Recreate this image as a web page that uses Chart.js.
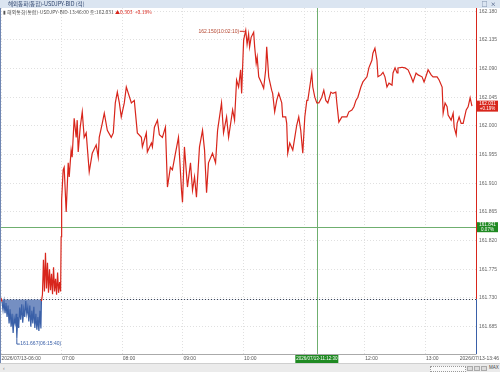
<!DOCTYPE html>
<html>
<head>
<meta charset="utf-8">
<script src="https://cdn.jsdelivr.net/npm/chart.js@4.4.1/dist/chart.umd.min.js"></script>
<style>
body { margin: 0; background: #fff; }
#wrap { position: relative; width: 500px; height: 372px; overflow: hidden; font-family: "Noto Sans CJK KR", "Liberation Sans", sans-serif; }
#titlebar { position: absolute; left: 0; top: 0; width: 500px; height: 8px; background: #dbe5f1; color: #2b416b; font-size: 5.5px; line-height: 8px; }
#titlebar .t { position: absolute; left: 8px; }
#titlebar .ic { position: absolute; right: 3px; letter-spacing: 1px; }
#info { position: absolute; left: 3px; top: 9px; font-size: 5px; line-height: 6px; color: #555; white-space: nowrap; }
#info .up { color: #d8261c; }
#leftline { position: absolute; left: 0; top: 8px; width: 1px; height: 355px; background: #6f86b3; }
#scroll { position: absolute; left: 0; top: 363px; width: 500px; height: 9px; background: #ebebeb; border-top: 1px solid #cfcfcf; box-sizing: border-box; font-family: "Liberation Sans", sans-serif; font-size: 5px; color: #777; }
#scroll .l { position: absolute; left: 3px; top: 1px; }
#scroll .bar { position: absolute; left: 430px; top: 2px; width: 34px; height: 4px; border: 1px dotted #999; background: #fafafa; }
#scroll .b { position: absolute; top: 2px; width: 6px; height: 5px; background: #dcdcdc; border: 1px solid #aaa; box-sizing: border-box; }
#scroll .m { position: absolute; left: 489px; top: 1px; font-size: 4.5px; color: #444; }
</style>
</head>
<body>
<div id="wrap">
  <canvas id="grafico" width="500" height="372"></canvas>
  <div id="titlebar"><span class="t">해외통화(통합)-USDJPY-BID (적)</span><span class="ic">□ ×</span></div>
  <div id="info"></div>
  <div id="leftline"></div>
  <div id="scroll"><span class="l">‹</span><span class="bar"></span><span class="b" style="left:467px"></span><span class="b" style="left:474px"></span><span class="b" style="left:481px"></span><span class="m">MAX</span></div>
</div>
<script>
// minutos desde 06:00
const times = [
    0, 1, 2, 3, 4, 5, 6, 7, 8, 9, 10, 11, 12, 13, 14, 15, 15.67, 16.5, 17.5, 18.5, 19.5,
    20.5, 21.5, 22.5, 23.5, 24.5, 25.5, 26.5, 27.5, 28.5, 29.5, 30.5, 31.5, 32.5, 33.5, 34.5,
    35.5, 36.5, 37.5, 38.5, 39.5, 40,
    41, 42, 43, 44, 45, 46, 47, 48, 49, 50, 51, 52, 53, 54, 55, 56, 57, 58, 59,
    59.5, 60, 61.5, 62.5, 64.5, 66.5, 67.5, 69.4, 70.4, 72.4, 74.4, 75.4, 76.4, 78.4, 80.4,
    82.3, 84.3, 87.3, 90.3, 94.2, 96.2, 97.2, 100.2, 102.2, 105.2, 109.1, 111.1, 113.1, 115.1,
    117.1, 119, 122, 124, 129, 131.9, 134.9, 138.9, 139.9, 143.8, 144.8, 148.8, 149.8, 151.8,
    154.8, 156.7, 159.7, 162.7, 164.7, 167.6, 169.6, 172.6, 175.6, 178.6, 179.6, 181.5, 184.5,
    187.5, 189.5, 191.5, 193.4, 196.4, 199.4, 201.4, 203.4, 205.3, 209.3, 212.3, 214.3, 218.2,
    220.2, 223.2, 225.2, 229.2, 231.1, 233.1, 235.1, 237.1, 238.1, 240.1, 242.17,
    243.5, 245, 246, 247.5, 250, 251, 252.5, 253.5, 255, 257.9, 259.9, 261.9, 262.9, 264.9,
    267.8, 268.8, 270.8, 272.8, 274.8, 277.8, 278.7, 281.7, 282.7, 283.7, 285.7, 288.7, 290.7,
    292.6, 294.6, 296.6, 298.6, 300.6, 302.6, 303.6, 306.5, 307.5, 308.5, 310.5, 312.5, 314.5,
    317.4, 319.4, 321.4, 323.4, 326.4, 328.3, 331.3, 332.3, 334.3, 337.3, 339.3, 342.2, 344.2,
    347.2, 349.2, 351.2, 353.1, 356.1, 358.1, 362.1, 364, 367, 368, 370, 372, 373, 376, 378,
    379.9, 381.9, 383.9, 386.9, 387.9, 389.9, 391.9, 392.8, 396.8, 399.8, 402.8, 405.8, 407.7,
    410.7, 412.7, 416.6, 418.6, 421.6, 422.6, 425.6, 427.5, 431.5, 433.5, 436.5, 437.5, 439.4,
    441.4, 442.4, 445.4, 447.4, 448.4, 450.4, 451.3, 453.3, 455.3, 457.3, 460.3, 462.2, 464.2, 466
];

const prices = [
    161.730, 161.724, 161.711, 161.724, 161.706, 161.722, 161.700, 161.718, 161.690, 161.712,
    161.685, 161.705, 161.675, 161.698, 161.690, 161.705, 161.667, 161.700, 161.683, 161.715,
    161.696, 161.720, 161.691, 161.712, 161.700, 161.725, 161.705, 161.715, 161.693, 161.718,
    161.685, 161.710, 161.690, 161.716, 161.683, 161.705, 161.680, 161.700, 161.678, 161.710,
    161.682, 161.725,
    161.735, 161.790, 161.740, 161.801, 161.745, 161.785, 161.738, 161.775, 161.742, 161.768,
    161.736, 161.778, 161.740, 161.760, 161.735, 161.770, 161.738, 161.755, 161.740,
    161.826, 161.884, 161.931, 161.935, 161.865, 161.942, 161.920, 161.962, 161.951, 162.012,
    161.982, 162.009, 161.959, 161.998, 162.022, 161.982, 161.989, 161.928, 161.957, 161.970,
    161.951, 161.982, 162.004, 162.020, 161.993, 161.982, 161.989, 162.036, 162.053, 162.036,
    162.014, 162.036, 162.061, 162.036, 162.040, 161.989, 161.982, 161.967, 161.989, 161.959,
    161.973, 161.967, 161.998, 162.009, 161.986, 161.982, 161.998, 161.904, 161.935, 161.931,
    161.957, 161.982, 161.899, 161.880, 161.967, 161.904, 161.942, 161.899, 161.920, 161.888,
    161.967, 161.993, 161.962, 161.895, 161.942, 161.957, 161.942, 161.993, 162.036, 161.989,
    162.014, 161.982, 162.025, 162.009, 162.072, 162.061, 162.088, 162.051, 162.135, 162.150,
    162.128, 162.144, 162.124, 162.139, 162.147, 162.124, 162.098, 162.108, 162.077, 162.067,
    162.059, 162.088, 162.124, 162.077, 162.056, 162.051, 162.022, 162.040, 162.051, 162.036,
    162.014, 162.014, 162.004, 161.957, 161.973, 161.962, 161.982, 162.001, 162.014, 161.993,
    161.957, 162.014, 162.040, 162.040, 162.072, 162.083, 162.061, 162.045, 162.036, 162.036,
    162.045, 162.056, 162.040, 162.036, 162.053, 162.051, 162.053, 162.036, 162.006, 162.014,
    162.014, 162.014, 162.022, 162.025, 162.030, 162.040, 162.045, 162.061, 162.069, 162.077,
    162.091, 162.103, 162.114, 162.122, 162.103, 162.077, 162.080, 162.084, 162.077, 162.061,
    162.067, 162.064, 162.083, 162.091, 162.083, 162.091, 162.092, 162.091, 162.088, 162.077,
    162.069, 162.083, 162.080, 162.077, 162.069, 162.083, 162.088, 162.080, 162.077, 162.077,
    162.072, 162.061, 162.020, 162.036, 162.030, 162.017, 162.009, 162.020, 161.998, 161.986,
    162.004, 162.014, 162.004, 162.004, 162.025, 162.030, 162.044, 162.031
];

const prevClose = 161.728;
const yTicks = [161.685, 161.730, 161.775, 161.820, 161.865, 161.910, 161.955, 162.000, 162.045, 162.090, 162.135, 162.180];
const xTicks = [0, 60, 120, 180, 240, 300, 360, 420, 466];
const xTickLabels = ['2026/07/13-06:00', '07:00', '08:00', '09:00', '10:00', '11:00', '12:00', '13:00', '2026/07/13-13:46'];
const crossTime = 312.5;
const crossPrice = 161.841;

const RED = '#d8261c';
const BLUE = '#3a60a8';
const GREEN = '#1f8a22';
const FONT = '"Liberation Sans", sans-serif';

function hhmmss(m) {
    const s = Math.round((6 * 60 + m) * 60);
    const p = n => String(n).padStart(2, '0');
    return p(Math.floor(s / 3600)) + ':' + p(Math.floor(s / 60) % 60) + ':' + p(s % 60);
}

function pct(v) {
    return ((v - prevClose) / prevClose * 100).toFixed(2) + '%';
}

const lastPrice = prices[prices.length - 1];
const lastTime = times[times.length - 1];
document.getElementById('info').innerHTML =
    '▮ 해외통화(통합)-USDJPY-BID-' + hhmmss(lastTime).slice(0, 5) + ':00 종:' + lastPrice.toFixed(3) +
    ' <span class="up">▲' + (lastPrice - prevClose).toFixed(3) + ' &nbsp;+' + pct(lastPrice) + '</span>';

function box(ctx, x, y, w, h, color, lines) {
    ctx.fillStyle = color;
    ctx.fillRect(x, y, w, h);
    ctx.fillStyle = '#fff';
    ctx.font = '4.5px ' + FONT;
    ctx.textAlign = 'center';
    ctx.textBaseline = 'middle';
    const lh = h / lines.length;
    lines.forEach((t, i) => ctx.fillText(t, x + w / 2, y + lh * (i + 0.5)));
}

const overlay = {
    id: 'overlay',
    beforeDatasetsDraw(chart) {
        const { ctx, chartArea: a, scales: { x, y } } = chart;
        ctx.save();
        ctx.lineWidth = 1;
        // linha do fechamento anterior
        const yb = Math.round(y.getPixelForValue(prevClose)) + 0.5;
        ctx.strokeStyle = '#444';
        ctx.setLineDash([1, 2]);
        ctx.beginPath();
        ctx.moveTo(a.left, yb);
        ctx.lineTo(a.right, yb);
        ctx.stroke();
        // cruz do cursor
        ctx.setLineDash([]);
        ctx.strokeStyle = '#6faf6f';
        const cx = Math.round(x.getPixelForValue(crossTime)) + 0.5;
        const cy = Math.round(y.getPixelForValue(crossPrice)) + 0.5;
        ctx.beginPath();
        ctx.moveTo(cx, a.top);
        ctx.lineTo(cx, a.bottom);
        ctx.moveTo(a.left, cy);
        ctx.lineTo(a.right, cy);
        ctx.stroke();
        ctx.restore();
    },
    afterDraw(chart) {
        const { ctx, chartArea: a, scales: { x, y } } = chart;
        ctx.save();
        ctx.lineWidth = 1;
        const yb = y.getPixelForValue(prevClose);
        const ax = Math.round(a.right) + 0.5;

        // eixo direito vermelho / azul
        ctx.strokeStyle = RED;
        ctx.beginPath();
        ctx.moveTo(ax, a.top);
        ctx.lineTo(ax, yb);
        ctx.stroke();
        ctx.strokeStyle = BLUE;
        ctx.beginPath();
        ctx.moveTo(ax, yb);
        ctx.lineTo(ax, a.bottom);
        ctx.stroke();

        // linha de baixo
        ctx.strokeStyle = '#aaa';
        ctx.beginPath();
        ctx.moveTo(a.left, Math.round(a.bottom) + 0.5);
        ctx.lineTo(ax, Math.round(a.bottom) + 0.5);
        ctx.stroke();

        // rotulos do eixo x
        ctx.font = '5px ' + FONT;
        ctx.fillStyle = '#555';
        ctx.textAlign = 'left';
        ctx.textBaseline = 'middle';
        xTicks.forEach((t, i) => {
            const w = ctx.measureText(xTickLabels[i]).width;
            const px = Math.min(x.getPixelForValue(t) + 0.5, chart.width - w - 1);
            ctx.fillText(xTickLabels[i], px, a.bottom + 4.5);
        });

        // maximo
        const iMax = prices.indexOf(Math.max(...prices));
        const mx = x.getPixelForValue(times[iMax]);
        const my = y.getPixelForValue(prices[iMax]);
        ctx.strokeStyle = RED;
        ctx.beginPath();
        ctx.moveTo(mx, my);
        ctx.lineTo(mx - 1, my + 1);
        ctx.lineTo(mx - 6, my + 1);
        ctx.stroke();
        ctx.fillStyle = '#b4452f';
        ctx.textAlign = 'right';
        ctx.fillText(prices[iMax].toFixed(3) + '(' + hhmmss(times[iMax]) + ')', mx - 6.5, my + 1);

        // minimo
        const iMin = prices.indexOf(Math.min(...prices));
        const nx = x.getPixelForValue(times[iMin]);
        const ny = y.getPixelForValue(prices[iMin]);
        ctx.strokeStyle = BLUE;
        ctx.beginPath();
        ctx.moveTo(nx, ny);
        ctx.lineTo(nx, ny + 6);
        ctx.lineTo(nx + 3, ny + 6);
        ctx.stroke();
        ctx.fillStyle = BLUE;
        ctx.textAlign = 'left';
        ctx.fillText(prices[iMin].toFixed(3) + '(' + hhmmss(times[iMin]) + ')', nx + 3.5, ny + 6);

        // caixas de valor
        const ly = y.getPixelForValue(lastPrice);
        box(ctx, ax + 0.5, ly - 5.5, 21, 11, RED, [lastPrice.toFixed(3), '+' + pct(lastPrice)]);
        const cy = y.getPixelForValue(crossPrice);
        box(ctx, ax + 0.5, cy - 5, 21, 10, GREEN, [crossPrice.toFixed(3), pct(crossPrice)]);
        const cx = x.getPixelForValue(crossTime);
        box(ctx, cx - 21.5, a.bottom + 1, 43, 8, GREEN, ['2026/07/13-' + hhmmss(crossTime)]);
        ctx.restore();
    }
};

const ctx = document.getElementById('grafico').getContext('2d');
new Chart(ctx, {
    type: 'line',
    data: {
        datasets: [{
            data: times.map((t, i) => ({ x: t, y: prices[i] })),
            borderColor: RED,
            borderWidth: 1.2,
            pointRadius: 0,
            tension: 0,
            segment: {
                borderColor: c => (c.p0.parsed.y < prevClose && c.p1.parsed.y < prevClose) ? BLUE : RED
            },
            fill: { target: { value: prevClose }, above: 'rgba(0,0,0,0)', below: 'rgba(58,96,168,0.7)' }
        }]
    },
    options: {
        responsive: false,
        animation: false,
        layout: { padding: { left: 1, top: 8, bottom: 18, right: 0 } },
        plugins: { legend: { display: false }, tooltip: { enabled: false } },
        scales: {
            x: {
                type: 'linear',
                min: 0,
                max: 470,
                afterBuildTicks: s => { s.ticks = xTicks.slice(0, -1).map(v => ({ value: v })); },
                ticks: { display: false },
                grid: { color: '#e0e0e0', drawTicks: false },
                border: { display: false, dash: [1, 2] },
                afterFit: s => { s.height = 0; }
            },
            y: {
                position: 'right',
                min: 161.642,
                max: 162.185,
                afterBuildTicks: s => { s.ticks = yTicks.map(v => ({ value: v })); },
                ticks: {
                    font: { size: 5, family: FONT },
                    color: '#666',
                    padding: 3,
                    callback: v => v.toFixed(3)
                },
                grid: { color: '#e0e0e0', drawTicks: false },
                border: { display: false, dash: [1, 2] },
                afterFit: s => { s.width = 24; }
            }
        }
    },
    plugins: [overlay]
});
</script>
</body>
</html>
